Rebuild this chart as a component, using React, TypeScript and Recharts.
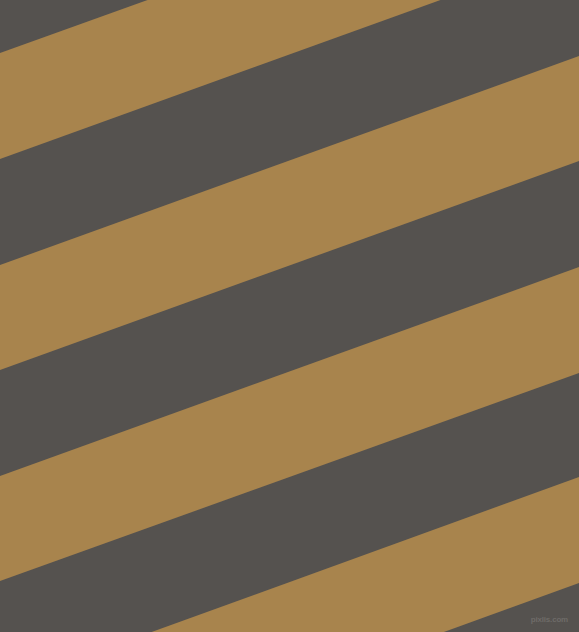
import { ComposedChart, Area, XAxis, YAxis } from "recharts";

const W = 579;
const H = 632;

// x positions where each stripe edge is sampled (left edge, right edge)
const xEdges = [0, 579];

// tan stripes: [top, bottom] in pixel-y units at the left and right edge
const stripeLeft: [number, number][] = [
  [53, 159],
  [265, 370],
  [476, 581],
  [687, 793],
];
const stripeRight: [number, number][] = [
  [-155, -50],
  [56, 161],
  [267, 373],
  [477, 583],
];

const DARK = "#55524F";
const TAN = "#A8844D";

const data = xEdges.map((x, i) => {
  const row: Record<string, number | [number, number]> = { x };
  const src = i === 0 ? stripeLeft : stripeRight;
  src.forEach((r, k) => {
    row[`s${k}`] = r;
  });
  return row;
});

export default function App() {
  return (
    <div
      style={{
        position: "absolute",
        left: 0,
        top: 0,
        width: W,
        height: H,
        background: DARK,
        overflow: "hidden",
      }}
    >
      <ComposedChart
        width={W}
        height={H}
        data={data}
        margin={{ top: 0, right: 0, bottom: 0, left: 0 }}
      >
        <XAxis type="number" dataKey="x" domain={[0, W]} hide allowDataOverflow />
        <YAxis type="number" domain={[0, H]} reversed hide allowDataOverflow />
        {stripeLeft.map((_, k) => (
          <Area
            key={k}
            type="linear"
            dataKey={`s${k}`}
            stroke="none"
            fill={TAN}
            fillOpacity={1}
            isAnimationActive={false}
            dot={false}
            activeDot={false}
          />
        ))}
      </ComposedChart>
      <span
        style={{
          position: "absolute",
          right: 11,
          top: 615,
          fontFamily: "'Liberation Sans', sans-serif",
          fontSize: 8,
          fontWeight: "bold",
          lineHeight: "10px",
          whiteSpace: "nowrap",
          color: "#6e6b68",
          letterSpacing: -0.2,
        }}
      >
        pixlis.com
      </span>
    </div>
  );
}
